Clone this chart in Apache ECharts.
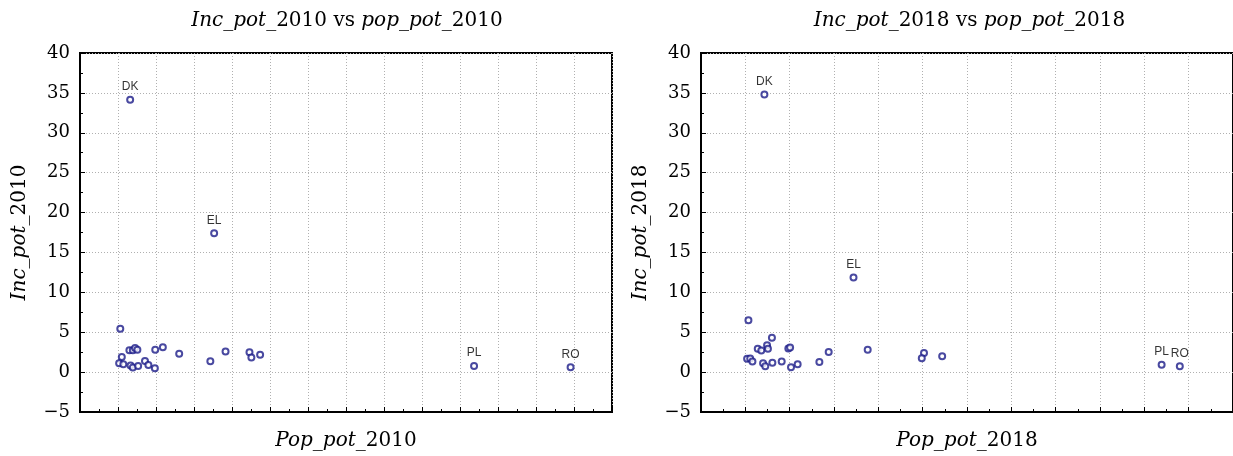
<!DOCTYPE html>
<html>
<head>
<meta charset="utf-8">
<script src="https://cdn.jsdelivr.net/npm/echarts@6/dist/echarts.min.js"></script>
<style>html,body{margin:0;padding:0;background:#fff;}#c{width:1233px;height:456px;}</style>
</head>
<body>
<div id="c"></div>
<script>
// ---- data ----
const yTicks = [-5, 0, 5, 10, 15, 20, 25, 30, 35, 40];

const pop2010 = [1.32, 3.53, 1.06, 1.10, 1.03, 1.14, 1.30, 1.39, 1.45, 1.51, 1.33, 1.39, 1.53, 1.71, 1.80, 1.97, 1.98, 2.18, 2.61, 3.43, 3.83, 4.46, 4.51, 4.74, 10.37, 12.91];
const inc2010 = [34.15, 17.4, 5.44, 1.88, 1.10, 0.98, 2.74, 2.74, 3.03, 2.79, 0.82, 0.58, 0.78, 1.39, 0.90, 0.49, 2.79, 3.11, 2.29, 1.35, 2.58, 2.50, 1.84, 2.17, 0.78, 0.61];
const lab2010 = ['DK', 'EL', '', '', '', '', '', '', '', '', '', '', '', '', '', '', '', '', '', '', '', '', '', '', 'PL', 'RO'];

const pop2018 = [1.43, 3.44, 1.07, 1.04, 1.11, 1.16, 1.28, 1.36, 1.49, 1.51, 1.60, 1.40, 1.45, 1.61, 1.82, 1.97, 2.01, 2.03, 2.18, 2.67, 2.88, 3.76, 5.03, 4.98, 5.44, 10.39, 10.80];
const inc2018 = [34.8, 11.87, 6.5, 1.66, 1.70, 1.34, 2.93, 2.72, 3.37, 2.93, 4.30, 1.10, 0.73, 1.17, 1.34, 2.95, 3.10, 0.61, 0.98, 1.26, 2.51, 2.80, 2.39, 1.74, 1.99, 0.93, 0.73];
const lab2018 = ['DK', 'EL', '', '', '', '', '', '', '', '', '', '', '', '', '', '', '', '', '', '', '', '', '', '', '', 'PL', 'RO'];

const titles = [['Inc_pot_', '2010 vs ', 'pop_pot_', '2010'], ['Inc_pot_', '2018 vs ', 'pop_pot_', '2018']];
const xNames = [['Pop_pot_', '2010'], ['Pop_pot_', '2018']];
const yNames = [['Inc_pot_', '2010'], ['Inc_pot_', '2018']];

// ---- chart ----
const serif = 'DejaVu Serif';
function richOf(size) {
  return {
    i: { fontFamily: serif, fontStyle: 'italic', fontWeight: 'normal', fontSize: size, color: '#000' },
    n: { fontFamily: serif, fontStyle: 'normal', fontWeight: 'normal', fontSize: size, color: '#000' }
  };
}

function mk(xs, ys, ls) { return xs.map((x, k) => [x, ys[k], ls[k]]); }

const grids = [
  { left: 80, top: 53, width: 532, height: 367, xMax: 14 },
  { left: 701, top: 53, width: 535, height: 367, xMax: 12 }
];

const option = {
  animation: false,
  backgroundColor: '#fff',
  title: grids.map((g, k) => ({
    text: '{i|' + titles[k][0] + '}{n|' + titles[k][1] + '}{i|' + titles[k][2] + '}{n|' + titles[k][3] + '}',
    left: g.left + g.width / 2 - 4,
    top: 6,
    textAlign: 'center',
    textStyle: { fontWeight: 'normal', rich: richOf(20) }
  })),
  grid: grids.map(g => ({
    left: g.left, top: g.top, width: g.width, height: g.height,
    show: true, borderColor: '#000', borderWidth: 2, backgroundColor: 'transparent'
  })),
  xAxis: grids.map((g, k) => ({
    type: 'value', gridIndex: k, min: 0, max: g.xMax, interval: 1,
    name: '{i|' + xNames[k][0] + '}{n|' + xNames[k][1] + '}',
    nameLocation: 'middle', nameGap: 19,
    nameTextStyle: { rich: richOf(20) },
    axisLine: { show: true, onZero: false, lineStyle: { color: '#000', width: 2 } },
    axisTick: { show: true, inside: true, length: 5, lineStyle: { color: '#000' } },
    minorTick: { show: true, splitNumber: 2, length: 3, lineStyle: { color: '#000' } },
    axisLabel: { show: false },
    splitLine: { show: true, lineStyle: { color: '#b0b0b0', type: [1, 2], width: 1 } }
  })),
  yAxis: grids.map((g, k) => ({
    type: 'value', gridIndex: k, min: -5, max: 40, interval: 5,
    name: '{i|' + yNames[k][0] + '}{n|' + yNames[k][1] + '}',
    nameLocation: 'middle', nameGap: 50, nameRotate: 90,
    nameTextStyle: { rich: richOf(20) },
    axisLine: { show: true, onZero: false, lineStyle: { color: '#000', width: 2 } },
    axisTick: { show: true, inside: true, length: 5, lineStyle: { color: '#000' } },
    minorTick: { show: true, splitNumber: 2, length: 3, lineStyle: { color: '#000' } },
    axisLabel: {
      fontFamily: serif, fontSize: 18, color: '#000', margin: 10,
      formatter: v => (yTicks.indexOf(v) >= 0 ? String(v).replace('-', '\u2212') : '')
    },
    splitLine: { show: true, lineStyle: { color: '#b0b0b0', type: [1, 2], width: 1 } }
  })),
  series: [
    [pop2010, inc2010, lab2010],
    [pop2018, inc2018, lab2018]
  ].map((d, k) => ({
    type: 'scatter', xAxisIndex: k, yAxisIndex: k,
    data: mk(d[0], d[1], d[2]),
    symbol: 'emptyCircle', symbolSize: 6,
    itemStyle: { color: '#1c1c88', borderWidth: 0.9 },
    label: {
      show: true, position: 'top', distance: 3,
      fontFamily: 'Liberation Sans', fontSize: 12, color: '#000',
      formatter: p => p.data[2]
    },
    labelLayout: { hideOverlap: false }
  }))
};

const chart = echarts.init(document.getElementById('c'), null, { renderer: 'canvas' });
chart.setOption(option);
</script>
</body>
</html>
